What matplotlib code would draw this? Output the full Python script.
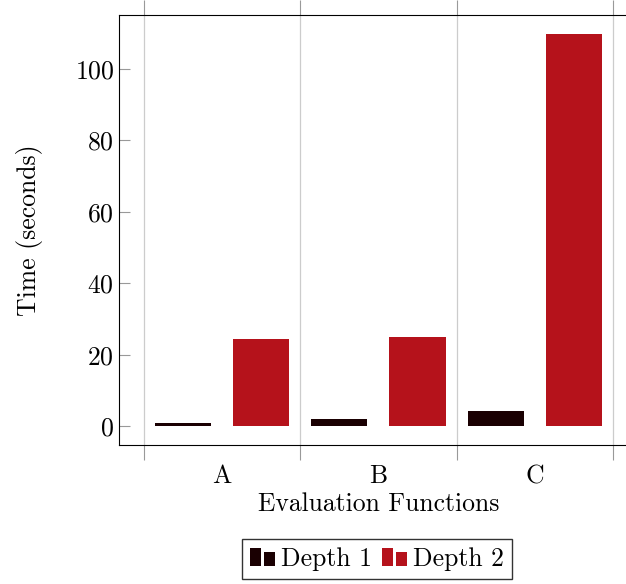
import matplotlib
matplotlib.use('Agg')
import matplotlib.pyplot as plt
from matplotlib.patches import Rectangle
from matplotlib.legend_handler import HandlerBase
import numpy as np

categories = ['A', 'B', 'C']
depth1 = [1.0, 2.1, 4.2]
depth2 = [24.4, 24.9, 109.8]
series_names = ['Depth 1', 'Depth 2']
colors = ['#1a0002', '#b5121b']

plt.rcParams['font.family'] = 'cmr10'
plt.rcParams['mathtext.fontset'] = 'cm'
plt.rcParams['axes.formatter.use_mathtext'] = True
plt.rcParams['font.size'] = 18.5


class TwoBarHandler(HandlerBase):
    # pgfplots style legend image: two small bars
    def create_artists(self, legend, orig_handle, xdescent, ydescent,
                       width, height, fontsize, trans):
        c = orig_handle.get_facecolor()
        w = width * 0.42
        r1 = Rectangle((-xdescent, -ydescent), w, height * 1.0,
                       facecolor=c, edgecolor='none', transform=trans)
        r2 = Rectangle((-xdescent + w * 1.3, -ydescent), w, height * 0.75,
                       facecolor=c, edgecolor='none', transform=trans)
        return [r1, r2]


fig = plt.figure(figsize=(6.26, 5.84), dpi=100)
ax = fig.add_axes([0.190, 0.238, 0.829, 0.736])

x = np.arange(1, len(categories) + 1)
w = 0.36
b1 = ax.bar(x - 0.25, depth1, w, color=colors[0], label=series_names[0], zorder=3)
b2 = ax.bar(x + 0.25, depth2, w, color=colors[1], label=series_names[1], zorder=3)

ax.set_xlim(0.34, 3.66)
ax.set_ylim(-5.3, 115.1)

ax.set_xticks([0.5, 1.5, 2.5, 3.5])
ax.set_xticklabels([])
ax.set_xticks(x, minor=True)
ax.set_xticklabels(categories, minor=True)
ax.tick_params(axis='x', which='major', direction='out', length=11, width=0.8,
               color='#999999', top=True, bottom=True)
ax.tick_params(axis='x', which='minor', length=0, pad=14)
ax.grid(axis='x', which='major', color='#cccccc', linewidth=0.9, zorder=0)

ax.set_yticks([0, 20, 40, 60, 80, 100])
ax.tick_params(axis='y', direction='in', length=8, width=0.8, color='#999999',
               left=True, right=True)

for s in ax.spines.values():
    s.set_linewidth(0.8)

ax.set_xlabel('Evaluation Functions', labelpad=3)
ax.set_ylabel('Time (seconds)', labelpad=23)

fig.legend(handles=[b1[0], b2[0]], labels=series_names,
           handler_map={Rectangle: TwoBarHandler()},
           loc='center', bbox_to_anchor=(377 / 626, 1 - 559 / 584),
           ncol=2, frameon=True, fancybox=False, edgecolor='black',
           handlelength=1.0, handletextpad=0.2, columnspacing=0.4,
           borderpad=0.3, borderaxespad=0)

fig.savefig('out.png', dpi=100)
